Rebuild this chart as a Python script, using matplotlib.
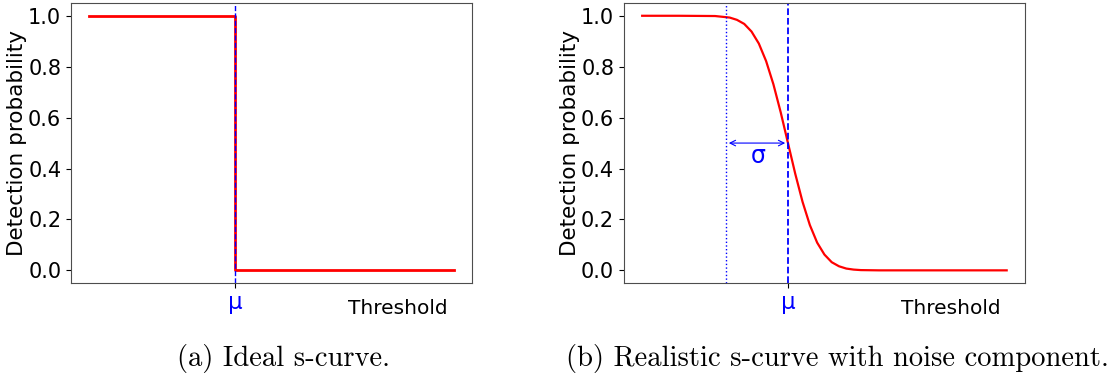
import numpy as np
import matplotlib
matplotlib.use("Agg")
import matplotlib.pyplot as plt

# threshold axis goes 0..100, mu at 40
mu = 40
sigma_x = 23

# (a) ideal step curve
ideal_x = [0, mu, mu, 100]
ideal_y = [1.0, 1.0, 0.0, 0.0]

# (b) realistic curve
real_x = [0, 10, 20, 24, 26, 28, 30, 32, 34, 36, 38, 40, 42, 44, 46, 48, 50, 52, 54, 56, 58, 60, 65, 70, 80, 90, 100]
real_y = [1.0, 1.0, 0.999, 0.993, 0.984, 0.968, 0.938, 0.891, 0.822, 0.731, 0.621, 0.5,
          0.379, 0.269, 0.178, 0.109, 0.062, 0.032, 0.016, 0.007, 0.003, 0.001, 0.0, 0.0, 0.0, 0.0, 0.0]

yticks = [0.0, 0.2, 0.4, 0.6, 0.8, 1.0]

fig = plt.figure(figsize=(11.15, 3.81), dpi=100)
ax1 = fig.add_axes([0.0637, 0.257, 0.3596, 0.735])
ax2 = fig.add_axes([0.5596, 0.257, 0.3596, 0.735])

def style(ax):
    ax.set_yticks(yticks)
    ax.set_yticklabels([f"{v:.1f}" for v in yticks], fontsize=15)
    ax.set_ylabel("Detection probability", fontsize=15.5, labelpad=1)
    ax.set_xticks([mu])
    ax.set_xticklabels(["μ"], fontsize=16.5, color="blue")
    ax.tick_params(axis="x", pad=2)
    for s in ax.spines.values():
        s.set_edgecolor("0.3")
    ax.text(0.94, -0.09, "Threshold", transform=ax.transAxes, fontsize=14.5,
            ha="right", va="center")

ax1.plot(ideal_x, ideal_y, color="red", lw=2)
ax1.axvline(mu, color="blue", ls="--", lw=1)
style(ax1)

ax2.plot(real_x, real_y, color="red", lw=1.6)
ax2.axvline(mu, color="blue", ls="--", lw=1.3)
ax2.axvline(sigma_x, color="blue", ls=":", lw=1)
ax2.annotate("", xy=(mu, 0.5), xytext=(sigma_x, 0.5),
             arrowprops=dict(arrowstyle="<->", color="blue", lw=0.8))
ax2.text(31.8, 0.45, "σ", color="blue", fontsize=17, ha="center", va="center")
style(ax2)

fig.text(0.254, 0.06, "(a) Ideal s-curve.", family="cmr10", fontsize=20.6, ha="center", va="center")
fig.text(0.751, 0.06, "(b) Realistic s-curve with noise component.", family="cmr10", fontsize=20.6,
         ha="center", va="center")

fig.savefig("out.png", dpi=100)
